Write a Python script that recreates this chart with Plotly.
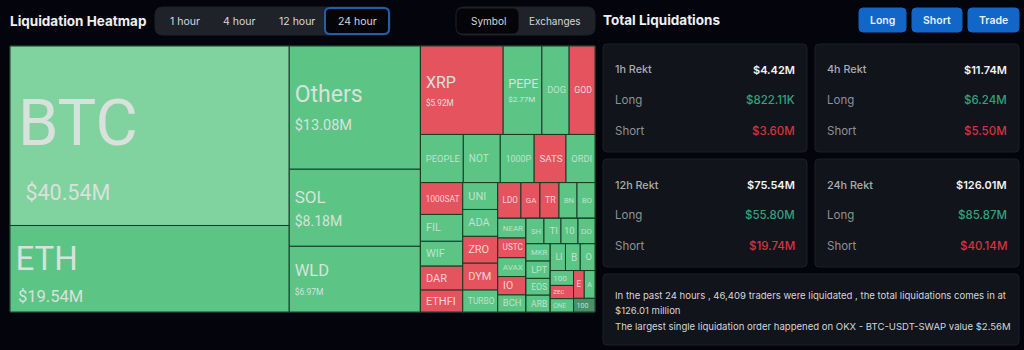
import plotly.graph_objects as go

# ---------- data (USD millions) ----------
major_symbols = ["BTC", "ETH"]
major_values = [40.54, 19.54]
second_symbols = ["Others", "SOL", "WLD"]
second_values = [13.08, 8.18, 6.97]
row_a_symbols = ["XRP", "PEPE", "DOG", "GOD"]
row_a_values = [5.92, 2.77, 1.95, 1.85]
row_b_symbols = ["PEOPLE", "NOT", "1000P", "SATS", "ORDI"]
row_b_values = [1.67, 1.44, 1.32, 1.24, 1.13]
col_c1_symbols = ["1000SAT", "FIL", "WIF", "DAR", "ETHFI"]
col_c1_values = [1.09, 0.92, 0.85, 0.82, 0.75]
col_c2_symbols = ["UNI", "ADA", "ZRO", "DYM", "TURBO"]
col_c2_values = [0.76, 0.76, 0.76, 0.76, 0.62]
row_d_symbols = ["LDO", "GA", "TR", "BN", "BO"]
row_d_values = [0.67, 0.55, 0.55, 0.52, 0.52]
col_e_symbols = ["NEAR", "USTC", "AVAX", "IO", "BCH"]
col_e_values = [0.45, 0.45, 0.43, 0.42, 0.39]
row_f_symbols = ["SH", "TI", "10", "DO"]
row_f_values = [0.37, 0.35, 0.35, 0.35]
col_g_symbols = ["MKR", "LPT", "EOS", "ARB"]
col_g_values = [0.34, 0.34, 0.33, 0.33]
row_h_symbols = ["LI", "B", "O"]
row_h_values = [0.33, 0.32, 0.32]
col_i_symbols = ["100", "ZEC", "ONE"]
col_i_values = [0.28, 0.25, 0.25]
row_j_symbols = ["E", "A"]
row_j_values = [0.24, 0.24]
tail_symbol = "100M"
tail_value = 0.24

short_side = {"XRP", "GOD", "SATS", "1000SAT", "DAR", "ETHFI", "ZRO", "DYM",
              "LDO", "GA", "TR", "USTC", "IO", "ZEC", "E"}

usd_labels = {"BTC": "$40.54M", "ETH": "$19.54M", "Others": "$13.08M", "SOL": "$8.18M",
              "WLD": "$6.97M", "XRP": "$5.92M", "PEPE": "$2.77M"}

period_names = ["1h Rekt", "4h Rekt", "12h Rekt", "24h Rekt"]
period_totals = ["$4.42M", "$11.74M", "$75.54M", "$126.01M"]
period_longs = ["$822.11K", "$6.24M", "$55.80M", "$85.87M"]
period_shorts = ["$3.60M", "$5.50M", "$19.74M", "$40.14M"]
range_labels = ["1 hour", "4 hour", "12 hour", "24 hour"]
mode_labels = ["Symbol", "Exchanges"]
action_labels = ["Long", "Short", "Trade"]
summary_lines = ["In the past 24 hours , 46,409 traders were liquidated , the total liquidations comes in at",
                 "$126.01 million",
                 "The largest single liquidation order happened on OKX - BTC-USDT-SWAP value $2.56M"]

# ---------- styles ----------
W, H = 1024, 350
BG = "#04040c"
CARD = "#11141b"
CARD_LINE = "#1c2027"
PILL = "#1f2229"
BLUE = "#1166c8"
GREEN = "#5cc586"
LIGHT = "#80d39f"
RED = "#e5535f"
DARK_CELL = "#4a8f69"
CELL_TEXT = "#d9e1dc"
SMALL_TEXT_GREEN = "#bfe3cd"
SMALL_TEXT_RED = "#f6d5d8"
UI = "Inter"
TM = "Roboto"

# name size, value size, base size, name pad, value pad, lead-line size
big_text = {"BTC": (65, 21.5, 42, 5, 13, 26), "ETH": (33, 16.5, 25, 2, 5, 6),
            "Others": (23, 14.5, 21, 3, 3, 0), "SOL": (17, 14, 18, 3, 3, 0),
            "WLD": (16.5, 8.5, 15, 3, 3, 0), "XRP": (16, 8.2, 14, 3, 3, 0),
            "PEPE": (15, 9.5, 13, 2, 2, 0)}
small_size = {"PEOPLE": 10, "NOT": 10, "1000P": 10, "SATS": 11, "ORDI": 10, "1000SAT": 10,
              "FIL": 11, "WIF": 11, "DAR": 11, "ETHFI": 11, "UNI": 11, "ADA": 11, "ZRO": 11,
              "DYM": 11, "TURBO": 10, "LDO": 11, "GA": 11, "TR": 11, "BN": 10, "BO": 10,
              "NEAR": 10, "USTC": 11, "AVAX": 10, "IO": 11, "BCH": 11, "SH": 10, "TI": 10,
              "10": 10, "DO": 10, "MKR": 10, "LPT": 10, "EOS": 10, "ARB": 10, "LI": 10, "B": 10,
              "O": 10, "100": 10, "ZEC": 11, "ONE": 10, "E": 9, "A": 9, "DOG": 10, "GOD": 10,
              "100M": 10}
no_pad = {"E", "A", "100", "ZEC", "ONE", "100M", "10", "DO"}


def gap(px):
    n = max(0, round(px / 2.5))
    return f'<span style="font-size:10px">{"&nbsp;" * n}</span>' if n else ""


ids, parents, labels, values, colors, texts, sizes, text_colors = [], [], [], [], [], [], [], []


def group(i, parent):
    ids.append(i); parents.append(parent); labels.append(" "); values.append(0)
    colors.append(GREEN); texts.append(""); sizes.append(10); text_colors.append(CELL_TEXT)


def leaf(sym, val, parent):
    ids.append(sym); parents.append(parent); labels.append(sym); values.append(val)
    colour = RED if sym in short_side else GREEN
    if sym == "BTC":
        colour = LIGHT
    if sym == tail_symbol:
        colour = DARK_CELL
    colors.append(colour)
    shown = "100" if sym == tail_symbol else sym
    if sym in big_text:
        n, v, base, np_, vp, lead = big_text[sym]
        head = f'<span style="font-size:{lead}px">&nbsp;</span><br>' if lead else ""
        texts.append(f'{head}{gap(np_)}<span style="font-size:{n}px">{shown}</span><br>'
                     f'{gap(vp)}<span style="font-size:{v}px">{usd_labels[sym]}</span>')
        sizes.append(base)
        text_colors.append(CELL_TEXT)
    else:
        texts.append(("" if sym in no_pad else gap(3)) + shown)
        sizes.append(small_size[sym])
        text_colors.append(SMALL_TEXT_RED if sym in short_side else SMALL_TEXT_GREEN)


def leaves(syms, vals, parent):
    for s, v in zip(syms, vals):
        leaf(s, v, parent)


group("root", "")
group("c0", "root"); leaves(major_symbols, major_values, "c0")
group("c1", "root"); leaves(second_symbols, second_values, "c1")
group("c2", "root")
group("ra", "c2"); leaves(row_a_symbols, row_a_values, "ra")
group("rb", "c2"); leaves(row_b_symbols, row_b_values, "rb")
group("rest", "c2")
group("cc1", "rest"); leaves(col_c1_symbols, col_c1_values, "cc1")
group("cc2", "rest"); leaves(col_c2_symbols, col_c2_values, "cc2")
group("cr", "rest")
group("rd", "cr"); leaves(row_d_symbols, row_d_values, "rd")
group("rd2", "cr")
group("ce", "rd2"); leaves(col_e_symbols, col_e_values, "ce")
group("cf", "rd2")
group("rf", "cf"); leaves(row_f_symbols, row_f_values, "rf")
group("rf2", "cf")
group("cg", "rf2"); leaves(col_g_symbols, col_g_values, "cg")
group("ch", "rf2")
group("rh", "ch"); leaves(row_h_symbols, row_h_values, "rh")
group("rh2", "ch")
group("ci", "rh2"); leaves(col_i_symbols, col_i_values, "ci")
group("cj", "rh2")
group("rj", "cj"); leaves(row_j_symbols, row_j_values, "rj")
leaf(tail_symbol, tail_value, "cj")

fig = go.Figure(go.Treemap(
    ids=ids, parents=parents, labels=labels, values=values, text=texts,
    branchvalues="remainder", sort=False, maxdepth=-1,
    textinfo="text", textposition="middle left",
    textfont=dict(family=TM, size=sizes, color=text_colors),
    tiling=dict(packing="slice-dice", pad=0),
    pathbar=dict(visible=False),
    marker=dict(colors=colors, depthfade=False, pad=dict(t=0, l=0, r=0, b=0),
                line=dict(color="#143a27", width=1)),
    root=dict(color=BG),
    domain=dict(x=[10 / W, 595 / W], y=[1 - 312 / H, 1 - 46 / H]),
    hoverinfo="label+value",
))


def rrect(x0, y0, x1, y1, r, fill, line=None, lw=1):
    X0, X1 = x0 / W, x1 / W
    Y0, Y1 = 1 - y0 / H, 1 - y1 / H
    rx, ry = r / W, r / H
    p = (f"M{X0+rx},{Y0} L{X1-rx},{Y0} Q{X1},{Y0} {X1},{Y0-ry} L{X1},{Y1+ry} Q{X1},{Y1} {X1-rx},{Y1} "
         f"L{X0+rx},{Y1} Q{X0},{Y1} {X0},{Y1+ry} L{X0},{Y0-ry} Q{X0},{Y0} {X0+rx},{Y0} Z")
    fig.add_shape(type="path", path=p, xref="paper", yref="paper", fillcolor=fill,
                  line=dict(color=line or fill, width=lw), layer="below")


def txt(x, y, s, size, color, anchor="left", weight=None, family=UI):
    fig.add_annotation(x=x / W, y=1 - y / H, xref="paper", yref="paper", text=s, showarrow=False,
                       xanchor=anchor, yanchor="middle", align=anchor,
                       font=dict(family=family, size=size, color=color, weight=weight),
                       borderpad=0, borderwidth=0)


# header left
txt(10, 21, "Liquidation Heatmap", 13.5, "#eef0f2", weight=700)
rrect(155, 7, 390, 35, 8, PILL)
rrect(325, 8, 389, 34, 5, "#050509", "#1f5fb0", 2)
for cx, s in zip((185, 239, 297, 357), range_labels):
    txt(cx, 21, s, 10.5, "#d5d8dc", "center")

rrect(456, 7, 595, 35, 8, PILL)
rrect(457, 9, 518, 33, 5, "#050509")
for cx, s in zip((488, 555), mode_labels):
    txt(cx, 21, s, 10, "#d5d8dc", "center")

# header right
txt(603, 20, "Total Liquidations", 13.5, "#eef0f2", weight=700)
for (x0, x1), s in zip(((859, 906), (912, 962), (968, 1019)), action_labels):
    rrect(x0, 8, x1, 32, 4, BLUE)
    txt((x0 + x1) / 2, 20, s, 10.5, "#e8f1fb", "center", weight=600)

# cards
card_boxes = [(603, 44, 807), (815, 44, 1019), (603, 159, 807), (815, 159, 1019)]
for (x0, y0, x1), name, tot, lng, sht in zip(card_boxes, period_names, period_totals,
                                             period_longs, period_shorts):
    rrect(x0, y0, x1, y0 + 108, 4, CARD, CARD_LINE)
    txt(x0 + 12, y0 + 26, name, 10.8, "#a9adb3", weight=500)
    txt(x1 - 12, y0 + 26, tot, 11, "#f2f3f5", "right", weight=600)
    txt(x0 + 12, y0 + 56, "Long", 11.5, "#8e9298")
    txt(x1 - 12, y0 + 56, lng, 11.5, "#2fa37c", "right", weight=500)
    txt(x0 + 12, y0 + 87, "Short", 11.5, "#8e9298")
    txt(x1 - 12, y0 + 87, sht, 11.5, "#d8323f", "right", weight=500)

rrect(603, 274, 1019, 345, 4, CARD, CARD_LINE)
for y, s in zip((295, 310, 326), summary_lines):
    txt(615, y, s, 9.55, "#d3d6da")

fig.update_layout(width=W, height=H, margin=dict(l=0, r=0, t=0, b=0), autosize=False,
                  paper_bgcolor=BG, plot_bgcolor=BG, showlegend=False)

fig.write_html("out.html", config={"displayModeBar": False},
               post_script="document.body.style.margin='0';document.body.style.background='%s';"
                           "document.body.style.overflow='hidden';" % BG)
